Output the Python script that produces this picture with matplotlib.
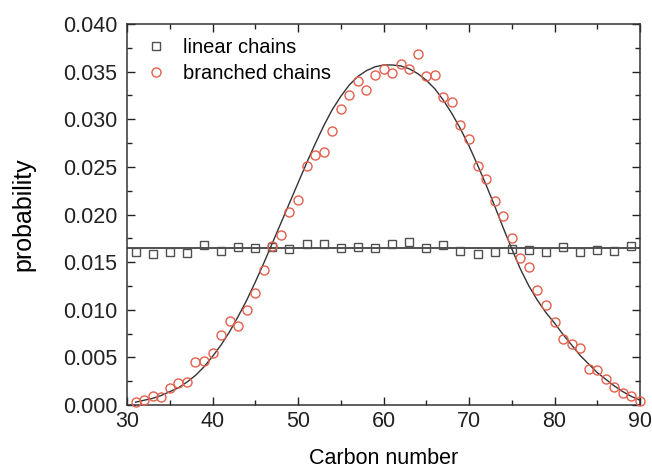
import numpy as np
import matplotlib
matplotlib.use('Agg')
import matplotlib.pyplot as plt
from matplotlib.ticker import MultipleLocator, FormatStrFormatter

plt.rcParams['font.family'] = ['Liberation Sans', 'DejaVu Sans']

# linear chains (odd carbon numbers)
lin_x = [31, 33, 35, 37, 39, 41, 43, 45, 47, 49, 51, 53, 55, 57, 59,
         61, 63, 65, 67, 69, 71, 73, 75, 77, 79, 81, 83, 85, 87, 89]
lin_y = [0.0161, 0.0159, 0.0161, 0.0160, 0.0168, 0.0162, 0.0166, 0.0165, 0.0166, 0.0164,
         0.0169, 0.0169, 0.0165, 0.0166, 0.0165, 0.0169, 0.0171, 0.0165, 0.0168, 0.0162,
         0.0159, 0.0161, 0.0164, 0.0163, 0.0161, 0.0166, 0.0161, 0.0163, 0.0162, 0.0167]

# branched chains
br_x = list(range(31, 91))
br_y = [0.0003, 0.0005, 0.0009, 0.0008, 0.0018, 0.0023, 0.0024, 0.0045, 0.0046, 0.0055,
        0.0073, 0.0088, 0.0083, 0.0100, 0.0118, 0.0142, 0.0167, 0.0179, 0.0203, 0.0215,
        0.0251, 0.0262, 0.0266, 0.0288, 0.0311, 0.0325, 0.0340, 0.0331, 0.0346, 0.0353,
        0.0349, 0.0358, 0.0353, 0.0369, 0.0345, 0.0346, 0.0323, 0.0318, 0.0294, 0.0279,
        0.0251, 0.0237, 0.0214, 0.0198, 0.0175, 0.0154, 0.0145, 0.0121, 0.0105, 0.0087,
        0.0069, 0.0064, 0.0060, 0.0038, 0.0037, 0.0027, 0.0019, 0.0013, 0.0009, 0.0004]

# fitted curves
fit_x = list(range(31, 91))
fit_y = [0.0003, 0.0005, 0.0007, 0.0010, 0.0014, 0.0018, 0.0024, 0.0031, 0.0040, 0.0051,
         0.0063, 0.0077, 0.0093, 0.0110, 0.0129, 0.0149, 0.0170, 0.0191, 0.0212, 0.0233,
         0.0254, 0.0274, 0.0293, 0.0310, 0.0324, 0.0336, 0.0345, 0.0351, 0.0355, 0.0357,
         0.0357, 0.0356, 0.0353, 0.0348, 0.0341, 0.0332, 0.0320, 0.0306, 0.0290, 0.0272,
         0.0252, 0.0231, 0.0209, 0.0186, 0.0164, 0.0143, 0.0125, 0.0110, 0.0097, 0.0086,
         0.0074, 0.0063, 0.0052, 0.0043, 0.0034, 0.0027, 0.0020, 0.0014, 0.0009, 0.0005]
lin_fit_x = [30, 90]
lin_fit_y = [0.0165, 0.0165]

fig = plt.figure(figsize=(6.52, 4.68), dpi=100)
ax = fig.add_axes([0.1948, 0.1346, 0.7868, 0.8141])

ax.plot(lin_fit_x, lin_fit_y, color='#222222', lw=1.1, zorder=2)
ax.plot(fit_x, fit_y, color='#333333', lw=1.0, zorder=2)
ax.plot(lin_x, lin_y, 's', ms=6, mfc='none', mec='#505050', mew=1.0,
        label='linear chains', zorder=3)
ax.plot(br_x, br_y, 'o', ms=6.5, mfc='none', mec='#e2604c', mew=1.0,
        label='branched chains', zorder=3, clip_on=False)

ax.set_xlim(30, 90)
ax.set_ylim(0, 0.040)
ax.xaxis.set_major_locator(MultipleLocator(10))
ax.xaxis.set_minor_locator(MultipleLocator(5))
ax.yaxis.set_major_locator(MultipleLocator(0.005))
ax.yaxis.set_minor_locator(MultipleLocator(0.0025))
ax.yaxis.set_major_formatter(FormatStrFormatter('%.3f'))

ax.tick_params(which='both', direction='in', top=True, right=True,
               labelsize=15.5, colors='#222222', width=1.0)
ax.tick_params(which='major', length=6)
ax.tick_params(axis='x', which='major', pad=4)
ax.tick_params(axis='y', which='major', pad=7)
ax.tick_params(which='minor', length=3.5)
for s in ax.spines.values():
    s.set_linewidth(1.1)
    s.set_color('#333333')

ax.set_xlabel('Carbon number', fontsize=15.5, labelpad=12)
ax.set_ylabel('probability', fontsize=18, labelpad=20)

ax.legend(loc='upper left', frameon=False, fontsize=14.5, handletextpad=0.6,
          borderaxespad=0.3, labelspacing=0.35, handlelength=1.5)

fig.savefig('out.png', dpi=100)
